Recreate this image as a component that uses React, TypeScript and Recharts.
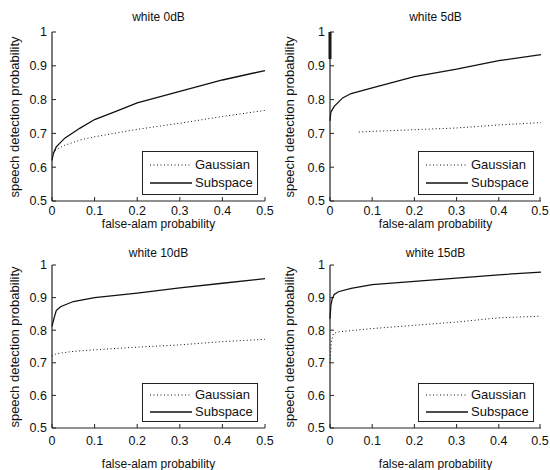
import React from "react";
import { LineChart, Line, XAxis, YAxis, Legend } from "recharts";

// false-alarm probability (x) vs speech detection probability (y)
const xTicks = [0, 0.1, 0.2, 0.3, 0.4, 0.5];
const yTicks = [0.5, 0.6, 0.7, 0.8, 0.9, 1];

const gaussian0dB = [[0, 0.63], [0.005, 0.645], [0.01, 0.652], [0.03, 0.665], [0.07, 0.682], [0.1, 0.69], [0.2, 0.712], [0.3, 0.73], [0.4, 0.75], [0.5, 0.768]];
const subspace0dB = [[0, 0.62], [0.003, 0.64], [0.01, 0.66], [0.03, 0.686], [0.065, 0.715], [0.1, 0.741], [0.15, 0.765], [0.2, 0.79], [0.3, 0.824], [0.4, 0.858], [0.5, 0.886]];

const gaussian5dB = [[0.068, 0.704], [0.1, 0.706], [0.2, 0.711], [0.3, 0.716], [0.4, 0.725], [0.5, 0.732]];
const subspace5dB = [[0, 0.737], [0.002, 0.763], [0.01, 0.78], [0.03, 0.805], [0.05, 0.818], [0.1, 0.835], [0.2, 0.868], [0.3, 0.89], [0.4, 0.915], [0.5, 0.933]];
const edge5dB = [[0, 0.92], [0, 1]];

const gaussian10dB = [[0, 0.72], [0.01, 0.728], [0.05, 0.735], [0.1, 0.74], [0.2, 0.748], [0.3, 0.755], [0.4, 0.765], [0.5, 0.772]];
const subspace10dB = [[0, 0.812], [0.005, 0.838], [0.01, 0.86], [0.02, 0.872], [0.05, 0.888], [0.1, 0.9], [0.2, 0.914], [0.3, 0.93], [0.4, 0.944], [0.5, 0.958]];

const gaussian15dB = [[0, 0.7], [0.003, 0.76], [0.008, 0.79], [0.02, 0.795], [0.1, 0.805], [0.2, 0.815], [0.3, 0.825], [0.4, 0.838], [0.5, 0.843]];
const subspace15dB = [[0, 0.835], [0.002, 0.875], [0.005, 0.895], [0.01, 0.91], [0.02, 0.918], [0.05, 0.928], [0.1, 0.94], [0.2, 0.95], [0.3, 0.96], [0.4, 0.97], [0.5, 0.978]];

const toPoints = (arr: number[][]) => arr.map(([x, y]) => ({ x, y }));

const FONT = "'Liberation Sans', Arial, Helvetica, sans-serif";
const FRAME = "#222";
const TICK_LEN = 4;
const W = 275;
const H = 235;

interface PanelProps {
  left: number;
  top: number;
  title: string;
  gaussian: number[][];
  subspace: number[][];
  extra?: number[][];
  plotLeft: number;
  plotRight: number;
  plotTop: number;
  plotBottom: number;
  tickGap: number;
  titleY: number;
  xLabelY: number;
  legendRows: [number, number];
  legendHeight: number;
}

function LegendBox({ rows, height }: { rows: [number, number]; height: number }) {
  const item = (label: string, dash: string | undefined, width: number, y: number) => (
    <div style={{ position: "absolute", left: 0, top: y - 8, height: 16, display: "flex", alignItems: "center" }}>
      <svg width={52} height={16} style={{ display: "block" }}>
        <line x1={7} x2={49} y1={8} y2={8} stroke="#111" strokeWidth={width} strokeDasharray={dash} />
      </svg>
      <span style={{ fontSize: 13, color: "#111", lineHeight: "16px" }}>{label}</span>
    </div>
  );
  return (
    <div
      style={{
        position: "relative",
        width: 114,
        height: height,
        border: "1px solid #222",
        background: "#fff",
        fontFamily: FONT,
      }}
    >
      {item("Gaussian", "1 2.5", 1, rows[0])}
      {item("Subspace", undefined, 1.3, rows[1])}
    </div>
  );
}

function Panel(p: PanelProps) {
  const plotW = p.plotRight - p.plotLeft;
  const plotH = p.plotBottom - p.plotTop;

  // inward tick marks drawn by the tick renderers (matlab box style)
  const bottomTick = (t: any) => (
    <g>
      <line x1={t.x} x2={t.x} y1={p.plotBottom} y2={p.plotBottom - TICK_LEN} stroke={FRAME} />
      <text x={t.x} y={t.y} dy="0.71em" textAnchor="middle" fill="#111" fontSize={12.5} fontFamily={FONT}>
        {String(t.payload.value)}
      </text>
    </g>
  );
  const leftTick = (t: any) => (
    <g>
      <line x1={p.plotLeft} x2={p.plotLeft + TICK_LEN} y1={t.y} y2={t.y} stroke={FRAME} />
      <text x={t.x} y={t.y} dy="0.355em" textAnchor="end" fill="#111" fontSize={12.5} fontFamily={FONT}>
        {String(t.payload.value)}
      </text>
    </g>
  );
  const topTick = (t: any) => (
    <line x1={t.x} x2={t.x} y1={p.plotTop} y2={p.plotTop + TICK_LEN} stroke={FRAME} />
  );
  const rightTick = (t: any) => (
    <line x1={p.plotRight} x2={p.plotRight - TICK_LEN} y1={t.y} y2={t.y} stroke={FRAME} />
  );

  return (
    <div style={{ position: "absolute", left: p.left, top: p.top, width: W, height: H }}>
      <LineChart
        width={W}
        height={H}
        margin={{ top: p.plotTop, right: W - p.plotRight, bottom: 0, left: 0 }}
      >
        <XAxis
          type="number"
          dataKey="x"
          domain={[0, 0.5]}
          ticks={xTicks}
          height={H - p.plotBottom}
          tickSize={0}
          tickLine={false}
          tickMargin={p.tickGap}
          tick={bottomTick}
          stroke={FRAME}
          strokeWidth={1.2}
        />
        <XAxis
          xAxisId="top"
          orientation="top"
          type="number"
          dataKey="x"
          domain={[0, 0.5]}
          ticks={xTicks}
          height={0}
          tickSize={0}
          tickLine={false}
          tick={topTick}
          stroke={FRAME}
          strokeWidth={1.2}
        />
        <YAxis
          type="number"
          domain={[0.5, 1]}
          ticks={yTicks}
          width={p.plotLeft}
          tickSize={0}
          tickLine={false}
          tickMargin={5}
          tick={leftTick}
          stroke={FRAME}
          strokeWidth={1.2}
        />
        <YAxis
          yAxisId="right"
          orientation="right"
          type="number"
          domain={[0.5, 1]}
          ticks={yTicks}
          width={0}
          tickSize={0}
          tickLine={false}
          tick={rightTick}
          stroke={FRAME}
          strokeWidth={1.2}
        />
        <Legend
          layout="horizontal"
          verticalAlign="middle"
          align="center"
          wrapperStyle={{
            left: p.plotRight - 7 - 116,
            top: p.plotBottom - 6 - p.legendHeight - 2,
            width: 116,
          }}
          content={() => <LegendBox rows={p.legendRows} height={p.legendHeight} />}
        />
        <Line
          name="Gaussian"
          data={toPoints(p.gaussian)}
          dataKey="y"
          type="linear"
          stroke="#111"
          strokeWidth={1}
          strokeDasharray="1 2.5"
          dot={false}
          isAnimationActive={false}
        />
        <Line
          name="Subspace"
          data={toPoints(p.subspace)}
          dataKey="y"
          type="linear"
          stroke="#111"
          strokeWidth={1.3}
          dot={false}
          isAnimationActive={false}
        />
        {p.extra && (
          <Line
            data={toPoints(p.extra)}
            dataKey="y"
            type="linear"
            stroke="#111"
            strokeWidth={3}
            dot={false}
            legendType="none"
            isAnimationActive={false}
          />
        )}
      </LineChart>
      <div
        style={{
          position: "absolute",
          left: p.plotLeft,
          width: plotW,
          top: p.titleY - 7,
          textAlign: "center",
          fontFamily: FONT,
          fontSize: 12,
          lineHeight: "14px",
          color: "#111",
        }}
      >
        {p.title}
      </div>
      <div
        style={{
          position: "absolute",
          left: p.plotLeft,
          width: plotW,
          top: p.xLabelY - 7,
          textAlign: "center",
          fontFamily: FONT,
          fontSize: 12,
          lineHeight: "14px",
          color: "#111",
        }}
      >
        false-alam probability
      </div>
      <div
        style={{
          position: "absolute",
          left: 14 - plotH / 2,
          top: p.plotTop + plotH / 2 - 8,
          width: plotH,
          textAlign: "center",
          transform: "rotate(-90deg)",
          fontFamily: FONT,
          fontSize: 13,
          lineHeight: "16px",
          color: "#111",
          whiteSpace: "nowrap",
        }}
      >
        speech detection probability
      </div>
    </div>
  );
}

export default function App() {
  const topRow = { plotTop: 32, plotBottom: 201, tickGap: 5, titleY: 17, xLabelY: 224, legendRows: [13, 31] as [number, number], legendHeight: 42 };
  const bottomRow = { plotTop: 30, plotBottom: 193, tickGap: 8, titleY: 18, xLabelY: 229, legendRows: [11, 28] as [number, number], legendHeight: 37 };
  return (
    <div style={{ position: "absolute", left: 0, top: 0, width: 550, height: 470, background: "#fff" }}>
      <Panel left={0} top={0} title="white 0dB" gaussian={gaussian0dB} subspace={subspace0dB} plotLeft={52} plotRight={265} {...topRow} />
      <Panel left={275} top={0} title="white 5dB" gaussian={gaussian5dB} subspace={subspace5dB} extra={edge5dB} plotLeft={55} plotRight={266} {...topRow} />
      <Panel left={0} top={235} title="white 10dB" gaussian={gaussian10dB} subspace={subspace10dB} plotLeft={52} plotRight={265} {...bottomRow} />
      <Panel left={275} top={235} title="white 15dB" gaussian={gaussian15dB} subspace={subspace15dB} plotLeft={55} plotRight={266} {...bottomRow} />
    </div>
  );
}
